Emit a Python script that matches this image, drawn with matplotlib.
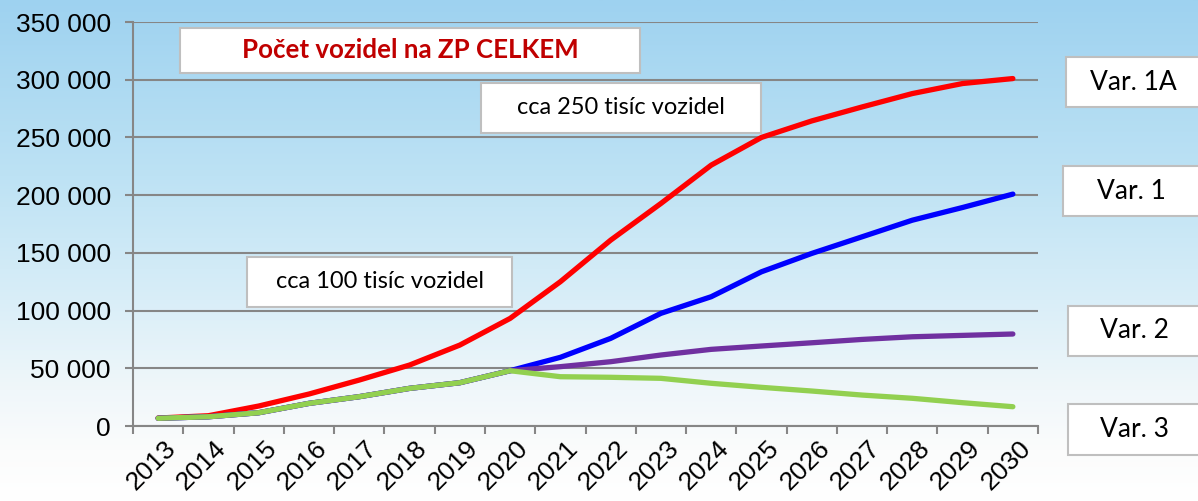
import numpy as np
import matplotlib
matplotlib.use('Agg')
import matplotlib.pyplot as plt
from matplotlib.patches import Rectangle
from matplotlib.colors import LinearSegmentedColormap
from matplotlib.ticker import FuncFormatter

# Data
years = [str(y) for y in range(2013, 2031)]
var_1a = [6900, 8900, 17300, 27700, 39800, 52800, 70100, 93200, 125000, 161000,
          192800, 226000, 250000, 264300, 276400, 288000, 296700, 301000]
var_1 = [6700, 8000, 11500, 19600, 25400, 32600, 37500, 47900, 59500, 75900,
         97600, 112000, 133600, 149500, 163900, 178300, 189300, 200900]
var_2 = [6700, 8000, 11500, 19600, 25400, 32600, 37500, 47900, 51400, 55700,
         61500, 66400, 69300, 72100, 75000, 77300, 78500, 79700]
var_3 = [6700, 8000, 11500, 19600, 25400, 32600, 37500, 47900, 42700, 42200,
         41300, 37000, 33500, 30300, 26800, 24000, 20200, 16700]
series_labels = ['Var. 1A', 'Var. 1', 'Var. 2', 'Var. 3']
series_colors = ['#ff0000', '#0000ff', '#7030a0', '#92d050']

W, H = 1198, 501
fig = plt.figure(figsize=(W / 100, H / 100), dpi=100)

# Background gradient (light blue at top -> white at bottom)
bg = fig.add_axes([0, 0, 1, 1], zorder=-10)
cmap = LinearSegmentedColormap.from_list('bg', [
    (0.0, '#9ed2f0'), (0.35, '#bde2f4'), (0.6, '#d9eef8'),
    (0.78, '#f0f7fa'), (0.9, '#fbfcfc'), (1.0, '#ffffff')])
bg.imshow(np.linspace(0, 1, 256).reshape(-1, 1), aspect='auto', cmap=cmap,
          extent=[0, 1, 1, 0])
bg.set_axis_off()

# Main axes in pixel layout
left, right, top, bottom = 133, 1038, 22, 426
ax = fig.add_axes([left / W, 1 - bottom / H, (right - left) / W, (bottom - top) / H])
ax.patch.set_alpha(0)

x = np.arange(len(years))
for vals, c in zip([var_1a, var_1, var_2, var_3], series_colors):
    ax.plot(x, vals, color=c, lw=3.8, solid_capstyle='round',
            solid_joinstyle='round', zorder=3)

ax.set_xlim(-0.5, len(years) - 0.5)
ax.set_ylim(0, 350000)
ax.set_yticks(np.arange(0, 350001, 50000))
ax.yaxis.set_major_formatter(FuncFormatter(lambda v, p: f'{v:,.0f}'.replace(',', ' ')))

# tick marks on category boundaries, year labels written at the category centres
ax.set_xticks(np.arange(-0.5, len(years), 1.0))
ax.set_xticklabels([])
ax.tick_params(axis='x', length=6, width=1.5, color='#868686')
ax.tick_params(axis='y', length=6, width=1.5, color='#868686', pad=10,
               labelsize=19)
plt.setp(ax.get_yticklabels(), family='Liberation Sans')

xlab_tr = ax.get_xaxis_transform()
for xi, yr in zip(x, years):
    ax.annotate(yr, (xi, 0), xycoords=xlab_tr, xytext=(4, -7),
                textcoords='offset points', rotation=45, ha='right', va='top',
                rotation_mode='anchor', fontsize=19, family='Liberation Sans',
                annotation_clip=False)

ax.grid(axis='y', color='#868686', lw=1.5, zorder=1)
ax.set_axisbelow(True)
for s in ['top', 'right']:
    ax.spines[s].set_visible(False)
for s in ['left', 'bottom']:
    ax.spines[s].set_color('#868686')
    ax.spines[s].set_linewidth(1.5)


def box(x0, y0, x1, y1, text, **kw):
    fig.patches.append(Rectangle((x0 / W, 1 - y1 / H), (x1 - x0) / W, (y1 - y0) / H,
                                 transform=fig.transFigure, facecolor='white',
                                 edgecolor='#bfbfbf', lw=1.5, zorder=5))
    fig.text((x0 + x1) / 2 / W, 1 - (y0 + y1) / 2 / H, text, ha='center',
             va='center', family='Lato', zorder=6, **kw)


box(180, 28, 640, 73, 'Počet vozidel na ZP CELKEM', fontsize=18.6,
    fontweight='bold', color='#c00000')
box(481, 83, 761, 133, 'cca 250 tisíc vozidel', fontsize=17, color='black')
box(247, 257, 512, 307, 'cca 100 tisíc vozidel', fontsize=17, color='black')

var_boxes = [(1066, 57, 1200, 107), (1063, 166, 1200, 216),
             (1068, 306, 1200, 356), (1068, 404, 1200, 455)]
for (x0, y0, x1, y1), lab in zip(var_boxes, series_labels):
    box(x0, y0, x1, y1, lab, fontsize=19, color='black')

fig.savefig('out.png', dpi=100)
